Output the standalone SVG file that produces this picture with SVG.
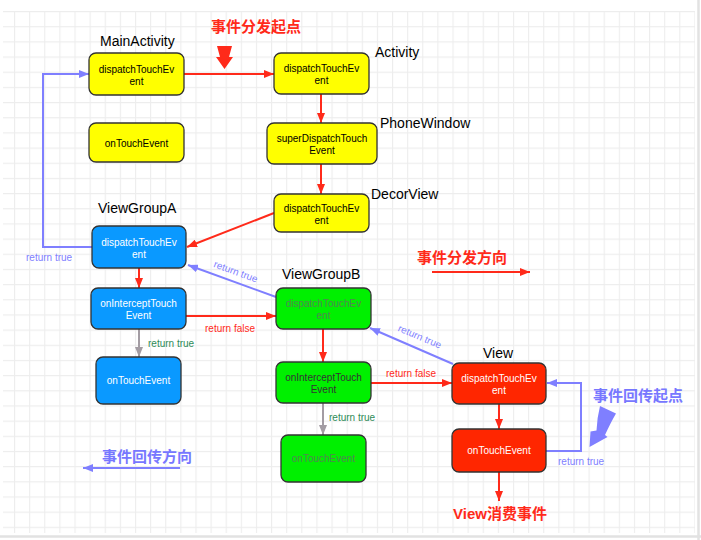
<svg xmlns="http://www.w3.org/2000/svg" width="701" height="540" viewBox="0 0 701 540">
<style>
.node{stroke:#333333;stroke-width:1.3}
.y{fill:#FFFF00}.b{fill:#0A99FF}.g{fill:#00F000}.r{fill:#FF2600}
.nt{font-family:"Liberation Sans",Arial,sans-serif;font-size:10px;text-anchor:middle}
.title{font-family:"Liberation Sans",Arial,sans-serif;font-size:14px;fill:#000}
.lbl{font-family:"Liberation Sans",Arial,sans-serif;font-size:10px}
.cjk{font-family:"Liberation Sans","Noto Sans CJK SC",sans-serif;font-size:15px;font-weight:bold}
.red{stroke:#FF2A1A;stroke-width:2;fill:none}
.gray{stroke:#A39CA3;stroke-width:2;fill:none}
.blue{stroke:#7F7FFF;stroke-width:2;fill:none}
.gt{fill:#528752}
</style>
<defs>
<pattern id="grid" patternUnits="userSpaceOnUse" x="14" y="11" width="15.12" height="15.17">
<path d="M0 0.5H15.12M0.5 0V15.17" stroke="#EDEDED" stroke-width="1.2" fill="none"/>
</pattern>
<marker id="ar" markerUnits="userSpaceOnUse" markerWidth="10" markerHeight="8" refX="10" refY="4" orient="auto"><path d="M0,0L10,4L0,8z" fill="#FF2A1A"/></marker>
<marker id="ag" markerUnits="userSpaceOnUse" markerWidth="10" markerHeight="8" refX="10" refY="4" orient="auto"><path d="M0,0L10,4L0,8z" fill="#A39CA3"/></marker>
<marker id="ab" markerUnits="userSpaceOnUse" markerWidth="10" markerHeight="8" refX="10" refY="4" orient="auto"><path d="M0,0L10,4L0,8z" fill="#7F7FFF"/></marker>
</defs>
<rect width="701" height="540" fill="#FFFFFF"/>
<rect x="3" y="11" width="692" height="522" fill="url(#grid)"/>
<path d="M698.5 0V540M0 536.5H701" stroke="#E2E2E2" stroke-width="2.5"/>

<g id="connectors">
<path class="red" d="M184,74H274" marker-end="url(#ar)"/>
<path class="red" d="M321,94V123" marker-end="url(#ar)"/>
<path class="red" d="M321,164V194" marker-end="url(#ar)"/>
<path class="red" d="M274,213L187,247" marker-end="url(#ar)"/>
<path class="red" d="M139,268V288" marker-end="url(#ar)"/>
<path class="red" d="M186,316H276" marker-end="url(#ar)"/>
<path class="red" d="M323,329V362" marker-end="url(#ar)"/>
<path class="red" d="M371,383H452" marker-end="url(#ar)"/>
<path class="red" d="M499,404V429" marker-end="url(#ar)"/>
<path class="red" d="M499,472V501" marker-end="url(#ar)"/>
<path class="red" d="M432,272H530" marker-end="url(#ar)"/>
<path class="gray" d="M139,329V357" marker-end="url(#ag)"/>
<path class="gray" d="M323,403V435" marker-end="url(#ag)"/>
<path class="blue" d="M92,247H43V74H89" marker-end="url(#ab)"/>
<path class="blue" d="M276,297L188,265" marker-end="url(#ab)"/>
<path class="blue" d="M453,364L370,328" marker-end="url(#ab)"/>
<path class="blue" d="M546,451H581V383H547" marker-end="url(#ab)"/>
<path class="blue" d="M180,468H83" marker-end="url(#ab)"/>
<polygon points="217,46 232,46 229,57 233,57 224.5,69 216,57 220,57" fill="#FF2A1A"/>
<path d="M600,406L616,413.5Q611,422 605,435L607.5,437L589.5,447L590.5,431.5L596.5,430.5Q597,418 600,406Z" fill="#7F7FFF"/>
<text class="lbl" x="26" y="261" fill="#7F7FFF">return true</text>
<text class="lbl" x="205" y="332" fill="#FF2A1A">return false</text>
<text class="lbl" x="148" y="347" fill="#2E8B57">return true</text>
<text class="lbl" x="386" y="377" fill="#FF2A1A">return false</text>
<text class="lbl" x="329" y="421" fill="#2E8B57">return true</text>
<text class="lbl" x="558" y="465" fill="#7F7FFF">return true</text>
<text class="lbl" x="236" y="275" fill="#7F7FFF" text-anchor="middle" transform="rotate(20 236 271)">return true</text>
<text class="lbl" x="420" y="340" fill="#7F7FFF" text-anchor="middle" transform="rotate(23 420 336)">return true</text>
<text class="cjk" x="211" y="32" fill="#FF2A1A">事件分发起点</text>
<text class="cjk" x="417" y="263" fill="#FF2A1A">事件分发方向</text>
<text class="cjk" x="102" y="462" fill="#7777FF">事件回传方向</text>
<text class="cjk" x="593" y="401" fill="#7777FF">事件回传起点</text>
<text class="cjk" x="453" y="519" fill="#FF2A1A">View消费事件</text>
</g>

<g id="MainActivity">
<text class="title" x="100" y="46">MainActivity</text>
<rect class="node y" x="89" y="53" width="95" height="42" rx="7"/>
<text class="nt" x="136.5" y="72.5" fill="#000">dispatchTouchEv</text>
<text class="nt" x="136.5" y="84.5" fill="#000">ent</text>
</g>
<g id="MainActivity-onTouch">
<rect class="node y" x="89" y="123" width="95" height="39" rx="7"/>
<text class="nt" x="136.5" y="146.5" fill="#000">onTouchEvent</text>
</g>
<g id="Activity">
<text class="title" x="375" y="57">Activity</text>
<rect class="node y" x="274" y="53" width="95" height="41" rx="7"/>
<text class="nt" x="321.5" y="72" fill="#000">dispatchTouchEv</text>
<text class="nt" x="321.5" y="84" fill="#000">ent</text>
</g>
<g id="PhoneWindow">
<text class="title" x="380" y="128">PhoneWindow</text>
<rect class="node y" x="267" y="123" width="110" height="41" rx="7"/>
<text class="nt" x="322" y="142" fill="#000">superDispatchTouch</text>
<text class="nt" x="322" y="154" fill="#000">Event</text>
</g>
<g id="DecorView">
<text class="title" x="371" y="199">DecorView</text>
<rect class="node y" x="274" y="194" width="95" height="38" rx="7"/>
<text class="nt" x="321.5" y="211.5" fill="#000">dispatchTouchEv</text>
<text class="nt" x="321.5" y="223.5" fill="#000">ent</text>
</g>
<g id="ViewGroupA">
<text class="title" x="98" y="213">ViewGroupA</text>
<rect class="node b" x="92" y="226" width="94" height="42" rx="7"/>
<text class="nt" x="139" y="245.5" fill="#FFF">dispatchTouchEv</text>
<text class="nt" x="139" y="257.5" fill="#FFF">ent</text>
</g>
<g id="ViewGroupA-intercept">
<rect class="node b" x="91" y="288" width="95" height="41" rx="7"/>
<text class="nt" x="138.5" y="307" fill="#FFF">onInterceptTouch</text>
<text class="nt" x="138.5" y="319" fill="#FFF">Event</text>
</g>
<g id="ViewGroupA-onTouch">
<rect class="node b" x="96" y="357" width="85" height="47" rx="7"/>
<text class="nt" x="138.5" y="384" fill="#FFF">onTouchEvent</text>
</g>
<g id="ViewGroupB">
<text class="title" x="282" y="279">ViewGroupB</text>
<rect class="node g" x="276" y="288" width="95" height="41" rx="7"/>
<text class="nt gt" x="323.5" y="307">dispatchTouchEv</text>
<text class="nt gt" x="323.5" y="319">ent</text>
</g>
<g id="ViewGroupB-intercept">
<rect class="node g" x="276" y="362" width="95" height="41" rx="7"/>
<text class="nt" x="323.5" y="381" fill="#333">onInterceptTouch</text>
<text class="nt" x="323.5" y="393" fill="#333">Event</text>
</g>
<g id="ViewGroupB-onTouch">
<rect class="node g" x="281" y="435" width="85" height="47" rx="7"/>
<text class="nt gt" x="323.5" y="462">onTouchEvent</text>
</g>
<g id="View">
<text class="title" x="483" y="358">View</text>
<rect class="node r" x="452" y="363" width="94" height="41" rx="7"/>
<text class="nt" x="499" y="382" fill="#FFF">dispatchTouchEv</text>
<text class="nt" x="499" y="394" fill="#FFF">ent</text>
</g>
<g id="View-onTouch">
<rect class="node r" x="452" y="429" width="94" height="43" rx="7"/>
<text class="nt" x="499" y="454" fill="#FFF">onTouchEvent</text>
</g>
</svg>
